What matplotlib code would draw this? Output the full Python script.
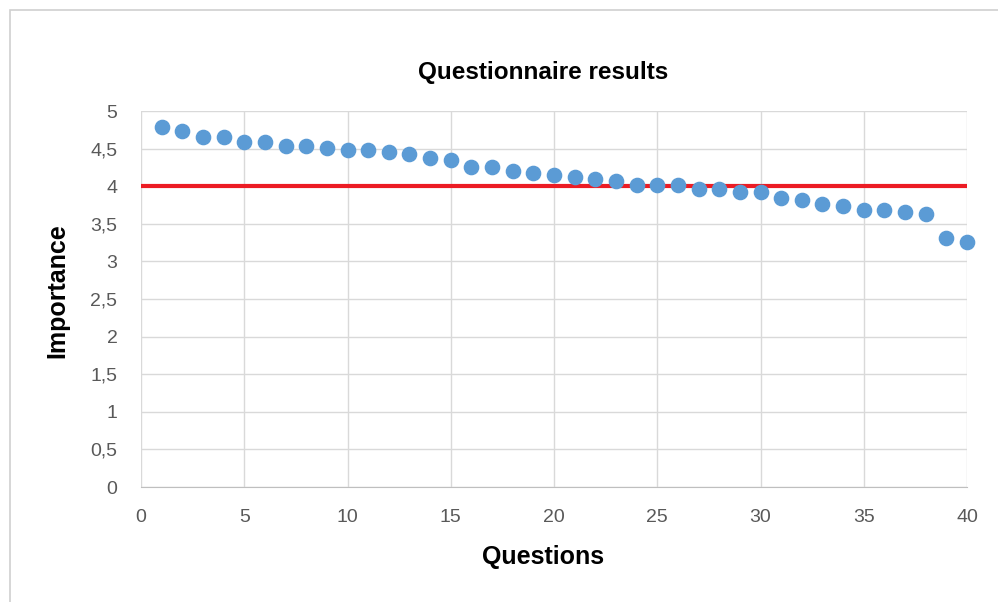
import matplotlib.pyplot as plt
from matplotlib.patches import Rectangle

questions = list(range(1, 41))
importance = [4.79, 4.73, 4.65, 4.65, 4.59, 4.59, 4.53, 4.53, 4.51, 4.48,
              4.48, 4.45, 4.43, 4.37, 4.35, 4.26, 4.26, 4.20, 4.18, 4.15,
              4.12, 4.10, 4.07, 4.02, 4.02, 4.02, 3.96, 3.96, 3.92, 3.92,
              3.84, 3.82, 3.76, 3.74, 3.68, 3.68, 3.66, 3.63, 3.31, 3.26]
threshold = 4
x_ticks = [0, 5, 10, 15, 20, 25, 30, 35, 40]
y_ticks = [0, 0.5, 1, 1.5, 2, 2.5, 3, 3.5, 4, 4.5, 5]
y_labels = [str(v).replace(".", ",") for v in y_ticks]

plt.rcParams["font.family"] = ["Liberation Sans", "DejaVu Sans"]

W, H = 998, 602
fig = plt.figure(figsize=(W / 100, H / 100), dpi=100, facecolor="white")
ax = fig.add_axes([141 / W, 1 - 487 / H, (967 - 141) / W, (487 - 111) / H])

# outer chart border like the Excel chart area
fig.patches.append(Rectangle((10 / W, -0.1), 1.2, (1 - 10 / H) + 0.1,
                             transform=fig.transFigure, fill=False,
                             edgecolor="#D0D0D0", linewidth=1.2))

ax.axhline(threshold, color="#EC1C24", linewidth=3, zorder=2)
ax.scatter(questions, importance, s=105, color="#5B9BD5", zorder=3, clip_on=False)

ax.set_xlim(0, 40)
ax.set_ylim(0, 5)
ax.set_xticks(x_ticks)
ax.set_yticks(y_ticks)
ax.set_yticklabels(y_labels)

ax.grid(True, color="#D9D9D9", linewidth=1)
ax.set_axisbelow(True)
for side in ["top", "right", "left"]:
    ax.spines[side].set_visible(False)
ax.spines["bottom"].set_color("#BFBFBF")
ax.tick_params(length=0, labelsize=14, colors="#595959")
ax.tick_params(axis="y", pad=17)
ax.tick_params(axis="x", pad=16)

fig.text(543 / W, 1 - 73 / H, "Questionnaire results", fontsize=17.5,
         fontweight="bold", ha="center", va="center")
fig.text(543 / W, 1 - 557 / H, "Questions", fontsize=18,
         fontweight="bold", ha="center", va="center")
fig.text(57 / W, 1 - 291 / H, "Importance", fontsize=18, rotation=90,
         fontweight="bold", ha="center", va="center")

plt.savefig("out.png", dpi=100, facecolor="white")
